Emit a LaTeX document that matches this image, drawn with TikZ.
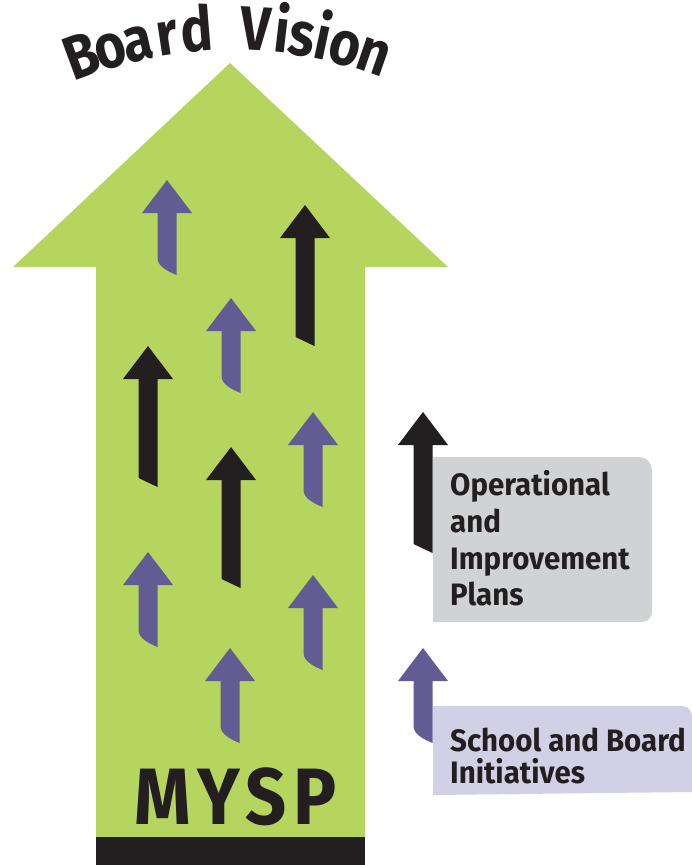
\documentclass[tikz,border=0pt]{standalone}
\usepackage{fontspec}
\usetikzlibrary{calc}
\newfontfamily\diagfont{Fira Sans}[FakeStretch=0.95]
\newfontfamily\headfont{Fira Sans}[FakeStretch=0.86]
\newfontfamily\basefont{Fira Sans}[FakeStretch=0.9,LetterSpace=9]
\definecolor{vgreen}{HTML}{B6D55F}
\definecolor{vpurple}{HTML}{625C95}
\definecolor{vblack}{HTML}{231F20}
\definecolor{vgray}{HTML}{D1D2D4}
\definecolor{vlilac}{HTML}{D2D0E5}
\begin{document}
\begin{tikzpicture}[x=1pt,y=-1pt,
  titleletter/.style={anchor=base,inner sep=0pt,text=vblack,
    font=\headfont\bfseries\fontsize{62}{64}\selectfont},
  legendtext/.style={anchor=base west,inner sep=0pt,text=vblack,
    font=\diagfont\bfseries\fontsize{31}{36}\selectfont},
  basetext/.style={anchor=base,inner sep=0pt,text=vblack,
    font=\basefont\bfseries\fontsize{80}{84}\selectfont},
  purplearrow/.pic={
    \fill[vpurple] (0,0) -- (25,33) -- (9.5,33) -- (9.5,95)
      .. controls (0,91) and (-9.5,86) .. (-9.5,78) -- (-9.5,33) -- (-25,33) -- cycle;},
  blackarrow/.pic={
    \fill[vblack] (0,0) -- (25,33) -- (9.5,33) -- (9.5,141)
      -- (-9.5,132) -- (-9.5,33) -- (-25,33) -- cycle;}
]
\useasboundingbox (0,0) rectangle (692,865);

% big upward arrow with its base bar
\fill[vgreen] (230,63) -- (448,267) -- (365,267) -- (365,837)
  -- (96,837) -- (96,267) -- (13,267) -- cycle;
\fill[vblack] (96,837) rectangle (365,865);

% title set along an arc above the arrow head
\foreach \ch/\d [count=\k] in {B/-20.2,o/-16.3,a/-12.5,r/-8.6,d/-4.6,
    V/3.2,i/6.6,s/9.3,i/12.1,o/15.2,n/19.1}
  \node[titleletter,rotate={-(\d)}] (t\k) at ($(232,465)+(-90+\d:415)$) {\ch};

% small arrows inside the big arrow
\pic at (167,180) {purplearrow};
\pic at (231,298) {purplearrow};
\pic at (313,412) {purplearrow};
\pic at (148,552) {purplearrow};
\pic at (313,575) {purplearrow};
\pic at (230,648) {purplearrow};
\pic at (305,205) {blackarrow};
\pic at (148,346) {blackarrow};
\pic at (231,447) {blackarrow};

% base label
\node[basetext] (mysp) at (236,824) {MYSP};

% legend: plans
\fill[vgray] (433,457) -- (639,457) .. controls (646.2,457) and (652,462.8) .. (652,470)
  -- (652,612) .. controls (652,617.5) and (647.5,622) .. (642,622) -- (433,622) -- cycle;
\pic at (423,412) {blackarrow};
\node[legendtext] (op1) at (450,495.5) {Operational};
\node[legendtext] (op2) at (450,532) {and};
\node[legendtext] (op3) at (450,569) {Improvement};
\node[legendtext] (op4) at (450,605) {Plans};

% legend: initiatives
\fill[vlilac] (433,706) -- (682,706) .. controls (687.5,706) and (692,710.5) .. (692,716)
  -- (692,792) -- (433,795) -- cycle;
\pic at (423,648) {purplearrow};
\node[legendtext] (in1) at (450,751.7) {School and Board};
\node[legendtext] (in2) at (450,783.3) {Initiatives};
\end{tikzpicture}
\end{document}
